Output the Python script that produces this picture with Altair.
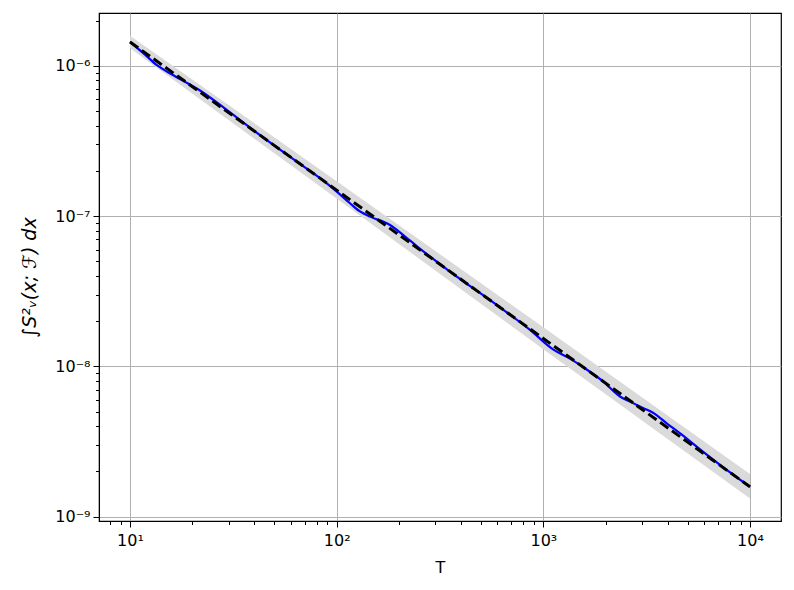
import altair as alt
import pandas as pd

# Blue (measured) curve
blue_T = [10, 11.82, 13.66, 15.28, 19.09, 21.33, 28.83, 42.56, 66.45, 85.9, 100.4,
          116.0, 129.7, 145.0, 181.1, 209.4, 244.7, 353.5, 617.0, 862.1, 1114, 1346,
          1627, 1944, 2350, 2627, 3035, 3394, 3966, 4741, 5730, 7157, 10000]
blue_y = [1.444e-6, 1.188e-6, 9.99e-7, 9.08e-7, 7.63e-7, 7.00e-7, 5.20e-7, 3.46e-7,
          2.228e-7, 1.730e-7, 1.450e-7, 1.219e-7, 1.075e-7, 9.93e-8, 8.74e-8, 7.52e-8,
          6.30e-8, 4.28e-8, 2.471e-8, 1.750e-8, 1.298e-8, 1.127e-8, 9.50e-9, 7.96e-9,
          6.31e-9, 5.83e-9, 5.29e-9, 4.92e-9, 4.17e-9, 3.46e-9, 2.805e-9, 2.216e-9, 1.580e-9]

# Dashed reference line
ref_T = [10, 100, 1000, 10000]
ref_y = [1.444e-6, 1.49e-7, 1.535e-8, 1.58e-9]

# Gray band
band_T = [10, 100, 1000, 10000]
band_lo = [1.31e-6, 1.31e-7, 1.30e-8, 1.32e-9]
band_hi = [1.59e-6, 1.71e-7, 1.82e-8, 1.92e-9]

x_ticks = [8, 9, 10, 20, 30, 40, 50, 60, 70, 80, 90, 100, 200, 300, 400, 500, 600, 700,
           800, 900, 1000, 2000, 3000, 4000, 5000, 6000, 7000, 8000, 9000, 10000]
y_ticks = []
for e in [-9, -8, -7]:
    for m in range(1, 10):
        y_ticks.append(float(f"{m}e{e}"))
y_ticks += [1e-6, 2e-6]

x_dom = [7.079, 14125]
y_dom = [9.36e-10, 2.25e-6]

blue_df = pd.DataFrame({"T": blue_T, "v": blue_y})
ref_df = pd.DataFrame({"T": ref_T, "v": ref_y})
band_df = pd.DataFrame({"T": band_T, "lo": band_lo, "hi": band_hi})

FONT = "DejaVu Sans"
major_test = "abs(log(datum.value)/LN10 - round(log(datum.value)/LN10)) < 0.001"

x_label_expr = ("datum.value==10?'10¹':datum.value==100?'10²':"
                "datum.value==1000?'10³':datum.value==10000?'10⁴':''")
y_label_expr = ("abs(log(datum.value)/LN10+6)<0.001?'10⁻⁶':"
                "abs(log(datum.value)/LN10+7)<0.001?'10⁻⁷':"
                "abs(log(datum.value)/LN10+8)<0.001?'10⁻⁸':"
                "abs(log(datum.value)/LN10+9)<0.001?'10⁻⁹':''")

x_scale = alt.Scale(type="log", domain=x_dom, nice=False)
y_scale = alt.Scale(type="log", domain=y_dom, nice=False)

x_axis = alt.Axis(
    values=x_ticks, labelExpr=x_label_expr, title="T",
    grid=True, gridColor="#b0b0b0", gridWidth=1,
    gridOpacity={"condition": {"test": major_test, "value": 1}, "value": 0},
    tickSize={"condition": {"test": major_test, "value": 6}, "value": 3.5},
    tickColor="black", tickWidth=1, domainColor="black", domainWidth=1,
    labelFont=FONT, labelFontSize=16, labelColor="black", labelPadding=5,
    labelOverlap=False, labelFlush=False,
    titleFont=FONT, titleFontSize=16, titleFontWeight="normal", titleColor="black",
    titleX=341, titleY=46, titleBaseline="middle", titleAlign="center",
)
y_axis = alt.Axis(
    values=y_ticks, labelExpr=y_label_expr, title="∫S²ᵥ(x; ℱ) dx",
    grid=True, gridColor="#b0b0b0", gridWidth=1,
    gridOpacity={"condition": {"test": major_test, "value": 1}, "value": 0},
    tickSize={"condition": {"test": major_test, "value": 6}, "value": 3.5},
    tickColor="black", tickWidth=1, domainColor="black", domainWidth=1,
    labelFont=FONT, labelFontSize=16, labelColor="black", labelPadding=3,
    labelOverlap=False, labelFlush=False,
    titleFont=FONT, titleFontSize=19, titleFontWeight="normal", titleColor="black",
    titleFontStyle="italic",
    titleX=-70, titleY=264, titleBaseline="middle", titleAlign="center", titleAngle=270,
)

band = alt.Chart(band_df).mark_area(color="#dadada", opacity=1).encode(
    x=alt.X("T:Q", scale=x_scale, axis=x_axis),
    y=alt.Y("lo:Q", scale=y_scale, axis=y_axis),
    y2="hi:Q",
)
blue = alt.Chart(blue_df).mark_line(color="#0000ff", strokeWidth=2.2, interpolate="monotone").encode(
    x=alt.X("T:Q", scale=x_scale),
    y=alt.Y("v:Q", scale=y_scale),
)
ref = alt.Chart(ref_df).mark_line(color="black", strokeWidth=3, strokeDash=[10, 4.5]).encode(
    x=alt.X("T:Q", scale=x_scale),
    y=alt.Y("v:Q", scale=y_scale),
)

chart = alt.layer(band, blue, ref).properties(
    width=682, height=508,
    background="white",
    autosize=alt.AutoSizeParams(type="none"),
    padding={"left": 91, "top": 5, "right": 5, "bottom": 61},
).configure_view(stroke="black", strokeWidth=1.2, strokeOpacity=1)

chart.save("out.html", embed_options={"renderer": "svg", "actions": False})
